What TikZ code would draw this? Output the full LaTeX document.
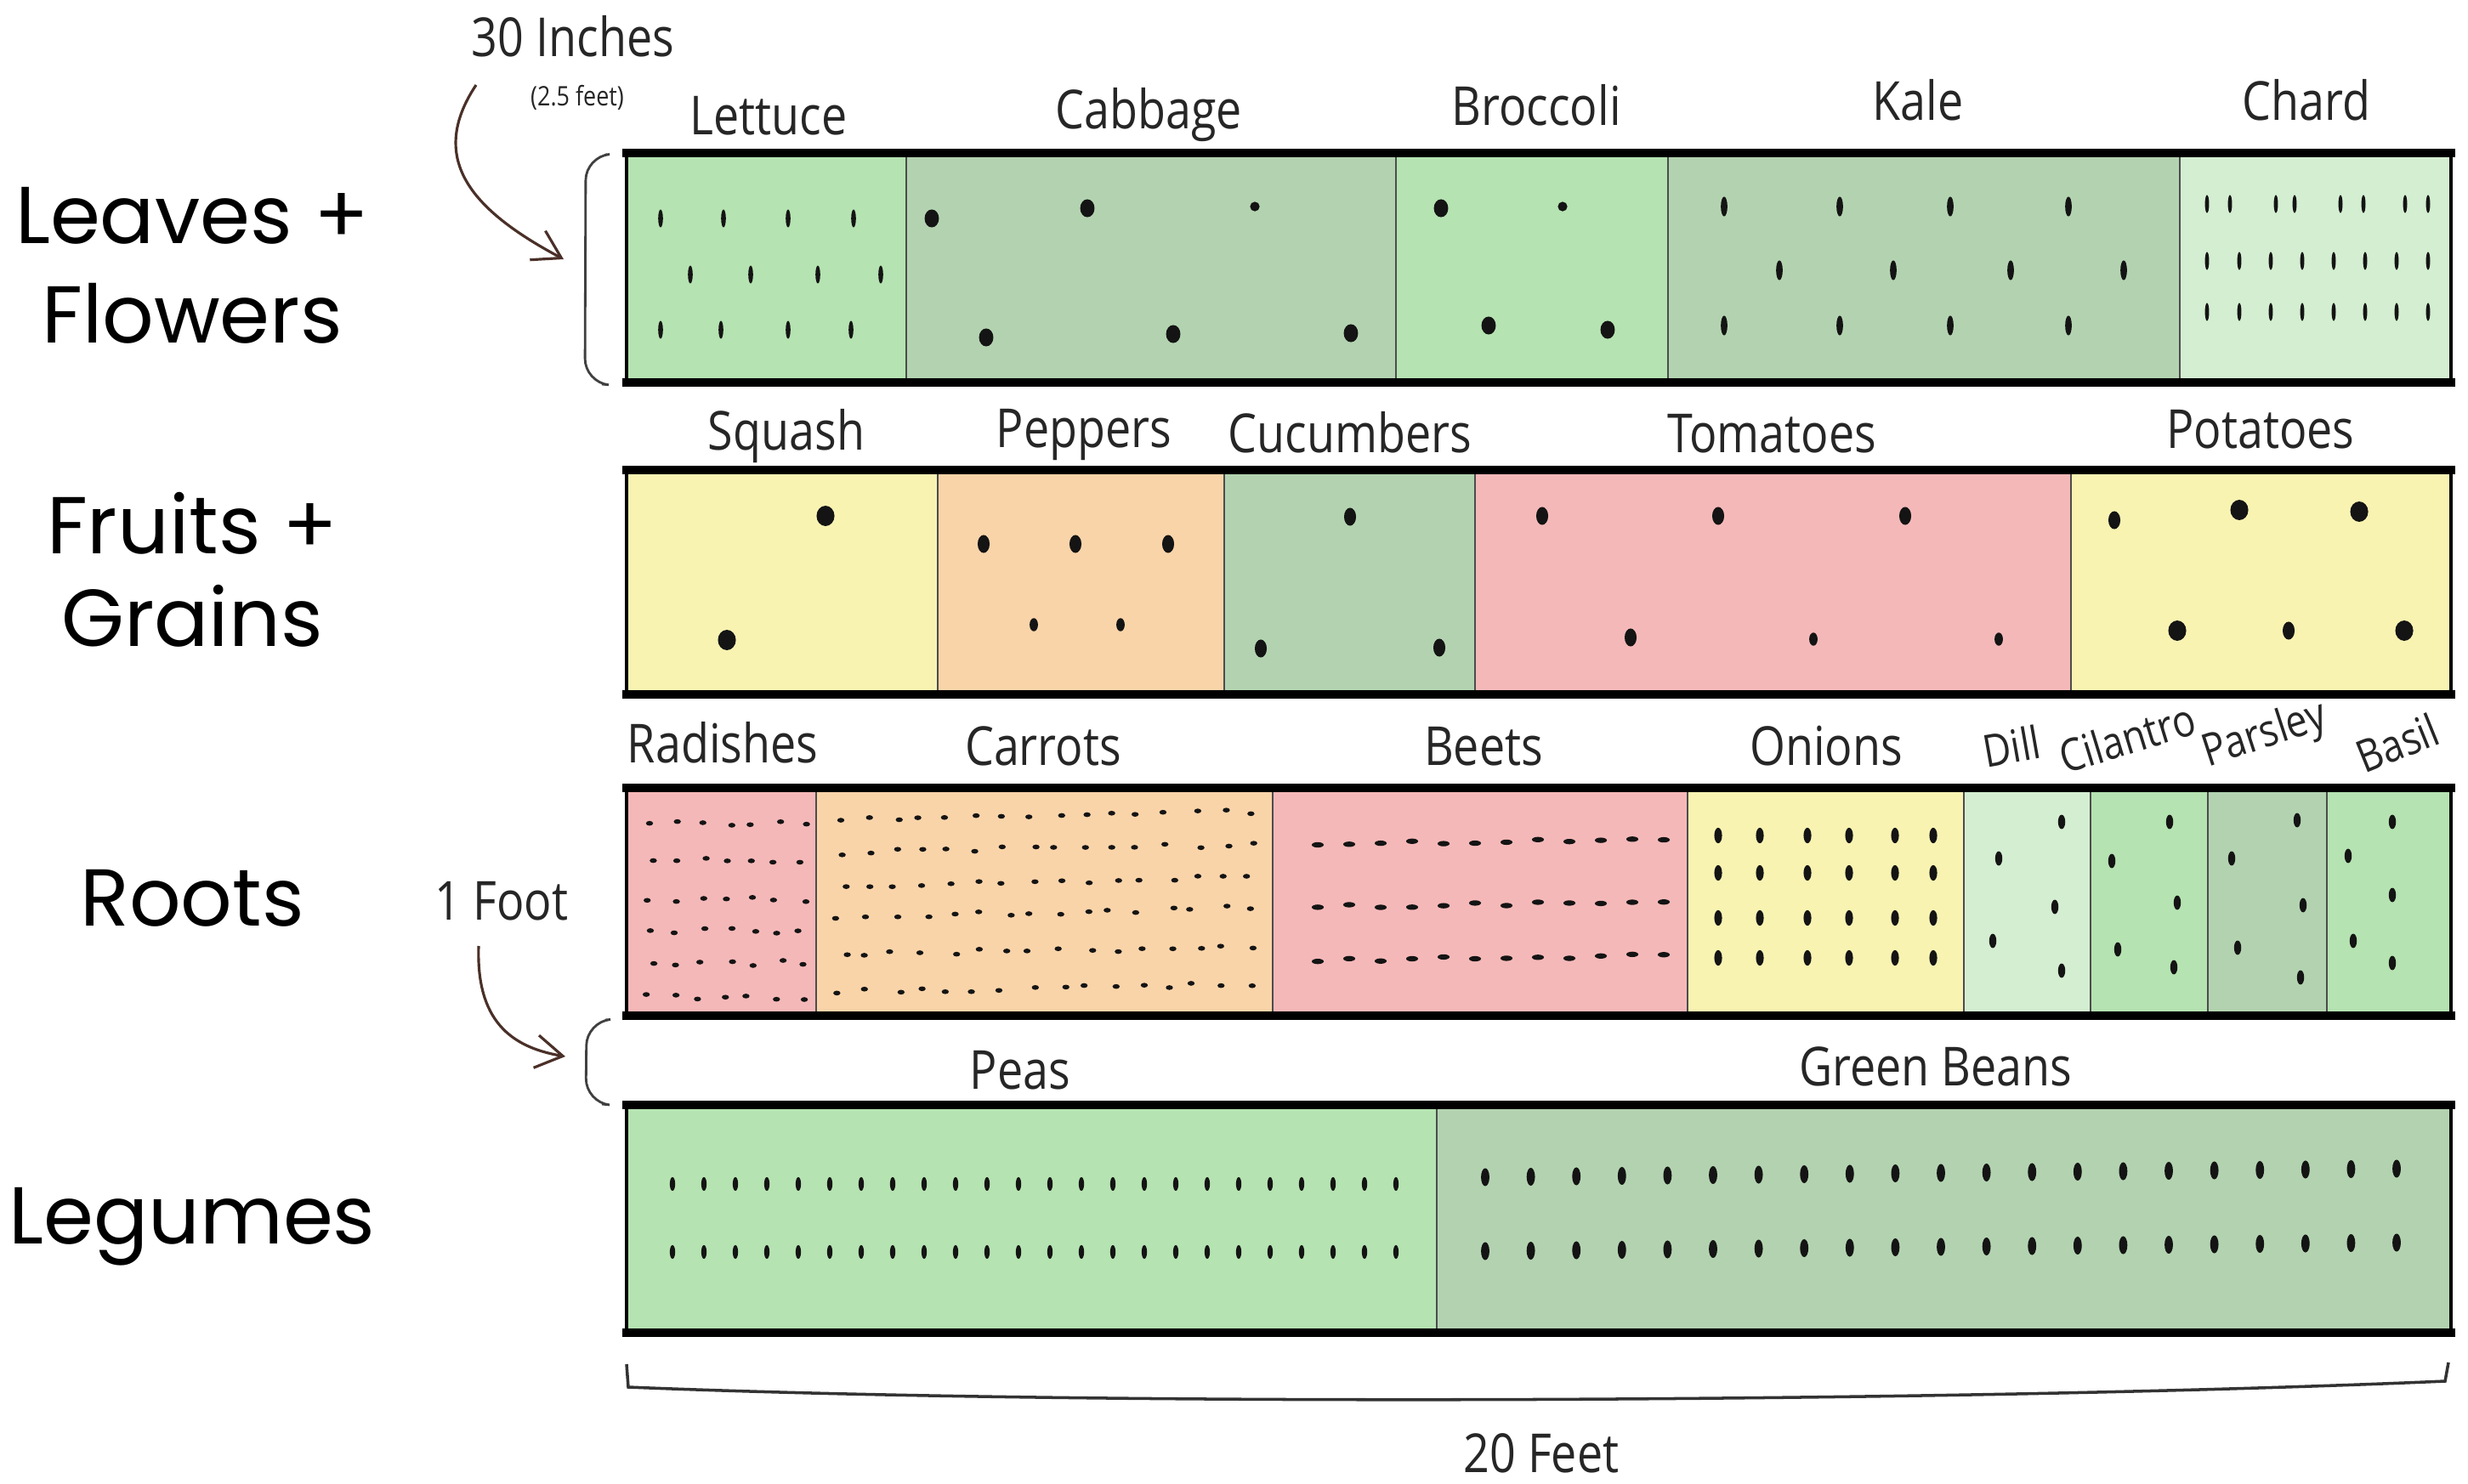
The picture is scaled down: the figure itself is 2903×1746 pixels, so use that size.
\documentclass[tikz,border=0pt]{standalone}
\usepackage{fontspec}
\usetikzlibrary{arrows.meta}
\newfontfamily\catfont{Poppins}
\newfontfamily\hand[FakeStretch=0.85]{Open Sans}
\definecolor{cLG}{HTML}{B5E3B1}
\definecolor{cSG}{HTML}{B3D3B0}
\definecolor{cPG}{HTML}{D4EED1}
\definecolor{cYE}{HTML}{F9F3B2}
\definecolor{cPE}{HTML}{FAD4A9}
\definecolor{cPK}{HTML}{F5B8B8}
\definecolor{seedc}{HTML}{141414}
\definecolor{arrc}{HTML}{4A3028}
\tikzset{
  cat/.style={font=\catfont\fontsize{27}{32}\selectfont, anchor=base, inner sep=0pt},
  lbl/.style={font=\hand\fontsize{18}{20}\selectfont, anchor=base, inner sep=0pt, text=black!85},
  herb/.style={font=\hand\fontsize{15}{17}\selectfont, anchor=center, inner sep=0pt, text=black!85},
  divider/.style={draw=black!70, line width=0.5pt},
  bedside/.style={draw=black, line width=1.3pt},
  bededge/.style={draw=black, line width=2.8pt},
  bracketline/.style={draw=black!75, line width=0.8pt, rounded corners=8pt},
  curvedarrow/.style={draw=arrc, line width=0.9pt, -{Straight Barb[length=9pt,width=11pt]}},
}
\begin{document}
\begin{tikzpicture}[x=0.01cm,y=-0.01cm]
\useasboundingbox (0,0) rectangle (2903,1746);
\fill[white] (0,0) rectangle (2903,1746);

% ---------- bed fills ----------
\foreach \a/\b/\c in {737/1066/cLG,1066/1642/cSG,1642/1962/cLG,1962/2564/cSG,2564/2883/cPG}
  \fill[\c] (\a,180) rectangle (\b,450);
\foreach \a/\b/\c in {737/1103/cYE,1103/1440/cPE,1440/1735/cSG,1735/2436/cPK,2436/2883/cYE}
  \fill[\c] (\a,553) rectangle (\b,817);
\foreach \a/\b/\c in {737/960/cPK,960/1497/cPE,1497/1985/cPK,1985/2310/cYE,2310/2459/cPG,2459/2597/cLG,2597/2737/cSG,2737/2883/cLG}
  \fill[\c] (\a,927) rectangle (\b,1195);
\foreach \a/\b/\c in {737/1690/cLG,1690/2883/cSG}
  \fill[\c] (\a,1300) rectangle (\b,1568);

% ---------- dividers ----------
\foreach \x in {1066,1642,1962,2564} \draw[divider] (\x,180) -- (\x,450);
\foreach \x in {1103,1440,1735,2436} \draw[divider] (\x,553) -- (\x,817);
\foreach \x in {960,1497,1985,2310,2459,2597,2737} \draw[divider] (\x,927) -- (\x,1195);
\draw[divider] (1690,1300) -- (1690,1568);

% ---------- outlines ----------
\foreach \t/\b in {180/450,553/817,927/1195,1300/1568}{
  \draw[bedside] (737,\t) -- (737,\b);
  \draw[bedside] (2883,\t) -- (2883,\b);
  \draw[bededge] (732,\t) -- (2888,\t);
  \draw[bededge] (732,\b) -- (2888,\b);
}

% ---------- seeds: bed 1 ----------
\foreach \x/\y in {777/257,851/257,927/257,1004/257,812/323,883/323,962/323,1036/323,777/388,848/388,927/388,1001/388}
  \fill[seedc] (\x,\y) ellipse[x radius=0.8pt, y radius=3pt];
\foreach \x/\y in {1096/257,1279/245,1160/397,1380/393,1589/392,1695/245,1751/383,1891/388}
  \fill[seedc] (\x,\y) ellipse[x radius=2.4pt, y radius=3pt];
\foreach \x/\y in {1476/243,1838/243}
  \fill[seedc] (\x,\y) ellipse[x radius=1.6pt, y radius=1.6pt];
\foreach \x/\y in {2028/243,2164/243,2294/243,2433/243,2093/318,2227/318,2365/318,2498/318,2028/383,2164/383,2294/383,2433/383}
  \fill[seedc] (\x,\y) ellipse[x radius=1.1pt, y radius=3.3pt];
\foreach \x in {2596,2623,2677,2699,2753,2780,2829,2856}
  \fill[seedc] (\x,240) ellipse[x radius=0.7pt, y radius=3pt];
\foreach \y in {307,367}
  \foreach \x in {2596,2634,2671,2708,2745,2782,2819,2856}
    \fill[seedc] (\x,\y) ellipse[x radius=0.7pt, y radius=3pt];

% ---------- seeds: bed 2 ----------
\foreach \x/\y in {971/607,855/753,2634/600,2775/602,2561/742,2828/742}
  \fill[seedc] (\x,\y) ellipse[x radius=3pt, y radius=3.4pt];
\foreach \x/\y in {1157/640,1265/640,1374/640,1588/608,1483/763,1693/762,1814/607,2021/607,2241/607,1918/750,2487/612,2692/742}
  \fill[seedc] (\x,\y) ellipse[x radius=2pt, y radius=3pt];
\foreach \x/\y in {1216/735,1318/735,2133/752,2351/752}
  \fill[seedc] (\x,\y) ellipse[x radius=1.4pt, y radius=2.2pt];

% ---------- seeds: bed 3 ----------
\pgfmathsetseed{7}
\foreach \y in {968,1012,1058,1095,1133,1173}
  \foreach \x in {765,795,...,945}{
    \pgfmathsetmacro\dx{8*rand}
    \pgfmathsetmacro\dy{3*rand}
    \fill[seedc] ({\x+\dx},{\y+\dy}) ellipse[x radius=1.2pt, y radius=0.8pt];
  }
\foreach \y in {965,1003,1042,1078,1123,1167}
  \foreach \x in {990,1022,...,1475}{
    \pgfmathsetmacro\dx{8*rand}
    \pgfmathsetmacro\yy{\y+3*rand-0.02*(\x-990)}
    \fill[seedc] ({\x+\dx},\yy) ellipse[x radius=1.2pt, y radius=0.8pt];
  }
\foreach \y in {993,1067,1130}
  \foreach \x in {1550,1587,...,1960}{
    \pgfmathsetmacro\yy{\y+2*rand-0.015*(\x-1550)}
    \fill[seedc] (\x,\yy) ellipse[x radius=2pt, y radius=0.9pt];
  }
\foreach \y in {983,1027,1080,1127}
  \foreach \x in {2021,2070,2126,2175,2229,2274}
    \fill[seedc] (\x,\y) ellipse[x radius=1.3pt, y radius=2.6pt];
\foreach \x/\y in {2425/967,2351/1010,2417/1067,2344/1107,2425/1142,
                   2552/967,2484/1013,2561/1062,2491/1117,2557/1138,
                   2702/965,2625/1010,2709/1065,2632/1115,2706/1150,
                   2814/967,2762/1007,2814/1053,2768/1107,2814/1133}
  \fill[seedc] (\x,\y) ellipse[x radius=1.2pt, y radius=2.4pt];

% ---------- seeds: bed 4 ----------
\foreach \i in {0,...,23}{
  \fill[seedc] ({791+37*\i},1393) ellipse[x radius=0.9pt, y radius=2.3pt];
  \fill[seedc] ({791+37*\i},1473) ellipse[x radius=0.9pt, y radius=2.3pt];
}
\foreach \i in {0,...,20}{
  \fill[seedc] ({1747+53.6*\i},{1385-0.5*\i}) ellipse[x radius=1.4pt, y radius=3pt];
  \fill[seedc] ({1747+53.6*\i},{1472-0.5*\i}) ellipse[x radius=1.4pt, y radius=3pt];
}

% ---------- category labels ----------
\node[cat] (leaves) at (226,287) {Leaves +};
\node[cat] (flowers) at (226,404) {Flowers};
\node[cat] (fruits) at (226,652) {Fruits +};
\node[cat] (grains) at (226,761) {Grains};
\node[cat] (roots) at (226,1089) {Roots};
\node[cat] (legumes) at (226,1463) {Legumes};

% ---------- crop labels ----------
\node[lbl] (lettuce) at (904,159) {Lettuce};
\node[lbl] (cabbage) at (1351,152) {Cabbage};
\node[lbl] (broccoli) at (1807,148) {Broccoli};
\node[lbl] (kale) at (2256,142) {Kale};
\node[lbl] (chard) at (2713,142) {Chard};
\node[lbl] (squash) at (925,530) {Squash};
\node[lbl] (peppers) at (1275,527) {Peppers};
\node[lbl] (cucumbers) at (1588,533) {Cucumbers};
\node[lbl] (tomatoes) at (2084,533) {Tomatoes};
\node[lbl] (potatoes) at (2659,528) {Potatoes};
\node[lbl] (radishes) at (850,897) {Radishes};
\node[lbl] (carrots) at (1227,900) {Carrots};
\node[lbl] (beets) at (1745,900) {Beets};
\node[lbl] (onions) at (2148,900) {Onions};
\node[herb, rotate=10] (dill) at (2366,878) {Dill};
\node[herb, rotate=17] (cilantro) at (2502,868) {Cilantro};
\node[herb, rotate=18] (parsley) at (2664,866) {Parsley};
\node[herb, rotate=22] (basil) at (2820,874) {Basil};
\node[lbl] (peas) at (1200,1281) {Peas};
\node[lbl] (beans) at (2277,1277) {Green Beans};

% ---------- dimensions ----------
\node[lbl] (inches) at (674,67) {30 Inches};
\node[lbl, font=\hand\fontsize{9}{10}\selectfont] (feet) at (679,125) {(2.5 feet)};
\node[lbl] (foot) at (590,1082) {1 Foot};
\node[lbl] (twenty) at (1813,1732) {20 Feet};

\coordinate (a1s) at (560,100);
\coordinate (a1e) at (663,305);
\coordinate (a2s) at (563,1113);
\coordinate (a2e) at (665,1243);
\draw[curvedarrow] (a1s) .. controls (500,190) and (560,250) .. (a1e);
\draw[curvedarrow] (a2s) .. controls (560,1200) and (600,1232) .. (a2e);

\draw[bracketline] (712,182) -- (689,184) -- (688,450) -- (708,452);
\draw[bracketline] (712,1200) -- (690,1202) -- (689,1297) -- (708,1299);
\draw[draw=black!80, line width=1pt] (737,1605) -- (739,1632) .. controls (1300,1655) and (2300,1650) .. (2876,1625) -- (2880,1603);
\end{tikzpicture}
\end{document}
